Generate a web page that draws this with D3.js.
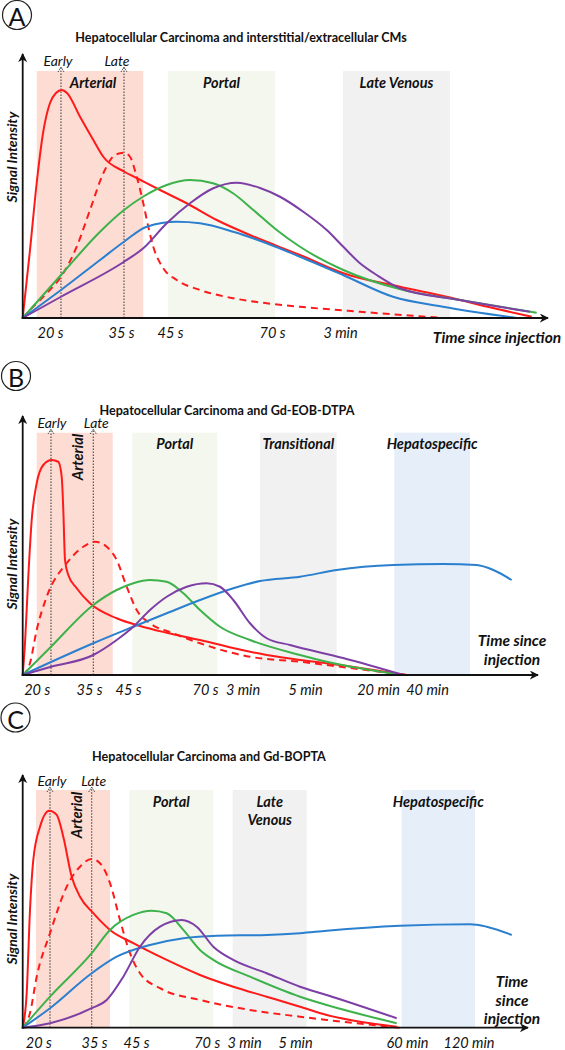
<!DOCTYPE html>
<html><head><meta charset="utf-8">
<script src="https://cdn.jsdelivr.net/npm/d3@7"></script>
<style>
body{margin:0;background:#fff}
svg{display:block}
text{font-family:Lato,"Open Sans",sans-serif;fill:#111}
</style>
</head><body>
<svg id="chart" width="565" height="1050"></svg>
<script>
// ---------------- DATA ----------------
// Panel A
const titleA = "Hepatocellular Carcinoma and interstitial/extracellular CMs";
const timeAnchorsA = [0, 20, 35, 45, 70, 180, 600];          // seconds
const tickValuesA = [20, 35, 45, 70, 180];
const tickLabelsA = ["20 s", "35 s", "45 s", "70 s", "3 min"];
const bandNamesA = ["Arterial", "Portal", "Late Venous"];
const bandStartA = [10.3, 44.6, 186.3];
const bandEndA = [39.55, 74.85, 411];
const phaseLinesA = [22.32, 35.61];
const redA = [[0,0],[5.35,27.2],[10.5,55.2],[14.9,74],[20,86],[21.27,90],[22.47,91.2],[23.59,90],[26.34,80.5],[29.15,71.2],[31.26,64.5],[35.61,58.6],[38.2,56],[42.96,51.2],[49.09,45.9],[56.45,39.2],[64.6,33.2],[115.3,25.2],[186.9,17.9],[306,12.5],[404,8.5],[501,4],[582.6,0.5]];
const redDashA = [[0,0],[5.35,3.2],[17.6,9.9],[22.32,16.5],[25.64,28.5],[28.45,43.2],[31.26,57.9],[33.73,65.2],[35.61,66.1],[36.84,64.5],[38.2,56.5],[39.55,45.9],[40.57,36.5],[41.59,28.5],[43.63,19.9],[46.64,15.2],[52.35,11.2],[60.51,7.9],[68.7,5.9],[115.3,4.5],[222,2.5],[396.3,0]];
const greenA = [[0,0],[22.32,17.2],[30.57,34.5],[35.61,43.2],[39.49,48.5],[44.33,53.2],[49.9,55.2],[55.54,53.9],[60.44,49.9],[65.42,43.2],[77.6,35.2],[115.3,28.5],[186.9,19.2],[312.9,11.2],[432,7.2],[593,2.1]];
const blueA = [[0,0],[22.32,11.2],[30.57,23.2],[35.61,30.5],[40.25,36.5],[46.64,38.5],[52.35,37.9],[60.51,34.5],[68.7,29.9],[115.3,24.5],[186.3,17.2],[291.3,8.5],[396.3,4.5],[551,0]];
const purpleA = [[0,0],[22.32,8.5],[35.61,22.5],[39.55,27.9],[44.33,37.9],[49.9,45.9],[55.61,51.9],[61.35,54.1],[67.06,52],[82.9,48.5],[120.6,42.5],[158.5,35.2],[186.9,28.5],[222,21.9],[257.1,17.2],[306,11.9],[432,7.2],[579,2.5]];

// Panel B
const titleB = "Hepatocellular Carcinoma and Gd-EOB-DTPA";
const timeAnchorsB = [0, 20, 35, 45, 70, 180, 300, 1200, 2400, 3600];
const tickValuesB = [20, 35, 45, 70, 180, 300, 1200, 2400];
const tickLabelsB = ["20 s", "35 s", "45 s", "70 s", "3 min", "5 min", "20 min", "40 min"];
const bandNamesB = ["Arterial", "Portal", "Transitional", "Hepatospecific"];
const bandStartB = [20, 46.4, 213.6, 1599];
const bandEndB = [41.08, 106.1, 690.9, 3453];
const phaseLinesB = [24.1, 36.1];
const redB = [[0,0],[3.29,12.7],[8.0,39.3],[12.86,62],[20,76.7],[21.89,84],[24.3,86],[26.19,85.3],[27.17,79.3],[27.63,66],[28.12,46],[29.06,40],[31.47,34.7],[35.26,28.7],[42.1,22.7],[48.9,19.6],[57.57,16.9],[68.38,14],[152.1,10.8],[226.5,8],[290.4,6],[567.6,4.7],[1902.9,0]];
const redDashB = [[0,0],[10.43,4.8],[20,18],[22.87,31.3],[28.6,44.7],[33.37,51.3],[36.54,53.3],[39.54,51.3],[42.1,46],[44.67,35.3],[47.82,26],[52.14,20.7],[59.71,16.7],[68.38,12.7],[194.4,7.3],[290.4,5.3],[854.9,2.8],[1902.9,0]];
const greenB = [[0,0],[24.1,11.3],[36.1,28],[42.1,34],[46.72,36.7],[52.14,38],[57.57,37.3],[62.96,32.7],[68.38,26],[114,19.3],[194.4,14],[290.4,8],[567.6,5.3],[1819.6,0]];
const blueB = [[0,0],[36.1,12.7],[46.72,19.3],[57.57,24.7],[68.38,30],[153,34.7],[213.6,37.6],[290.4,39.3],[690.9,42],[1574.7,44],[2799.2,44.4],[3617,44],[4023.5,42],[4474,38]];
const purpleB = [[0,0],[24.1,3.3],[36.1,8],[42.1,14],[46.72,19.3],[52.14,26],[57.57,31.3],[64.06,35.3],[75,36.7],[114,35.3],[153,30],[194.4,20.7],[226.5,14.7],[271.2,12],[768.5,6.8],[1819.6,0]];

// Panel C
const titleC = "Hepatocellular Carcinoma and Gd-BOPTA";
const timeAnchorsC = [0, 20, 35, 45, 70, 180, 300, 3600, 7200];
const tickValuesC = [20, 35, 45, 70, 180, 300, 3600, 7200];
const tickLabelsC = ["20 s", "35 s", "45 s", "70 s", "3 min", "5 min", "60 min", "120 min"];
const bandNamesC = ["Arterial", "Portal", "Late|Venous", "Hepatospecific"];
const bandStartC = [17.05, 43.4, 146.7, 3443.4];
const bandEndC = [38.81, 89.5, 644.7, 7580.7];
const phaseLinesC = [23.15, 34.38];
const redC = [[0,0],[5.13,13.9],[9.36,47.1],[13.59,67.1],[20.46,80.4],[22.96,86.8],[24.96,85.1],[26.73,76.4],[28.99,60.4],[31.23,52.4],[34.81,45.8],[38.81,39.1],[44.36,33.8],[55.86,27.1],[67.63,21.1],[148.4,16.4],[233.4,12.4],[447.3,8.4],[1233.9,5.1],[2214.9,2.4],[3296.1,0.4]];
const redDashC = [[0,0],[9.36,5.9],[17.95,20.4],[23.15,37.8],[27.65,56.4],[31.23,64.4],[34.38,67.5],[36.43,65.8],[38.81,57.8],[41.19,43.1],[43.57,29.8],[46.41,21.8],[53.49,15.8],[67.63,11.1],[194.1,7.1],[447.3,4.4],[1233.9,3.1],[3393,0]];
const greenC = [[0,0],[23.15,12.4],[34.38,29.8],[38.81,39.1],[44.36,45.1],[50.55,46.8],[55.86,45.8],[61.73,39.1],[67.63,31.1],[89.5,27.1],[194.1,20.4],[447.3,12.4],[1233.9,9.1],[3296.1,1.8]];
const blueC = [[0,0],[23.15,7.8],[34.38,21.8],[40.4,28.4],[49.95,33.1],[61.73,35.8],[99.5,36.8],[233.4,37.1],[447.3,37.8],[1233.9,38.8],[3393,40.8],[7288,41.4],[8266,40.4],[9729,37.1]];
const purpleC = [[0,0],[23.15,1.8],[34.38,7.8],[38.02,11.1],[41.98,20.4],[46.41,32.4],[53.49,40.4],[61.16,43.1],[66.46,40.4],[89.5,32.4],[148.4,27.1],[233.4,21.8],[447.3,16.4],[1233.9,13.1],[3296.1,3.8]];

const phaseNames = ["Early", "Late"];
const panelLetters = ["A", "B", "C"];

// ---------------- STYLE ----------------
const bandColors = {
  "Arterial": "#fddcd3",
  "Portal": "#f3f7ed",
  "Late Venous": "#f1f1f1",
  "Late|Venous": "#f1f1f1",
  "Transitional": "#f1f1f1",
  "Hepatospecific": "#e5eef9"
};
const seriesStyles = [
  {color: "#ff1a1a", dash: null},
  {color: "#ff1a1a", dash: "7,5"},
  {color: "#3db24a", dash: null},
  {color: "#2a7fcf", dash: null},
  {color: "#7d3fa6", dash: null}
];

const panels = [
  {
    letter: panelLetters[0], letterPos: [17, 15],
    title: titleA, titlePos: [241, 37], titleSize: 12.6,
    anchors: timeAnchorsA, xRange: [22.7, 50, 121, 170, 272, 340, 540],
    base: 318, bandTop: 71, axisTop: 54, axisRight: 548,
    ticks: tickValuesA, tickLabels: tickLabelsA,
    bands: bandNamesA.map((n, i) => ({name: n, from: bandStartA[i], to: bandEndA[i]})),
    bandLabelY: 82, rotateArterial: false,
    phases: phaseLinesA, phaseTop: 67, phaseLabelY: 60, phaseDx: [-3, -7],
    series: [redA, redDashA, greenA, blueA, purpleA],
    ylabelY: 157,
    timeLabel: ["Time since injection"], timeLabelPos: [497, 337]
  },
  {
    letter: panelLetters[1], letterPos: [16, 376],
    title: titleB, titlePos: [227, 410], titleSize: 12.6,
    anchors: timeAnchorsB, xRange: [22.7, 36.7, 89, 128, 205, 242.5, 305, 378, 427, 476],
    base: 675, bandTop: 432.7, axisTop: 416, axisRight: 538,
    ticks: tickValuesB, tickLabels: tickLabelsB,
    bands: bandNamesB.map((n, i) => ({name: n, from: bandStartB[i], to: bandEndB[i]})),
    bandLabelY: 443, rotateArterial: true, arterialLabelY: 457,
    phases: phaseLinesB, phaseTop: 429, phaseLabelY: 422, phaseDx: [1, 3],
    series: [redB, redDashB, greenB, blueB, purpleB],
    ylabelY: 564,
    timeLabel: ["Time since", "injection"], timeLabelPos: [512, 640]
  },
  {
    letter: panelLetters[2], letterPos: [15.5, 717.5],
    title: titleC, titlePos: [209, 756], titleSize: 12.6,
    anchors: timeAnchorsC, xRange: [22.7, 38.3, 94, 136, 206.7, 244, 295, 407, 468.5],
    base: 1027.7, bandTop: 790, axisTop: 775, axisRight: 528,
    ticks: tickValuesC, tickLabels: tickLabelsC,
    bands: bandNamesC.map((n, i) => ({name: n, from: bandStartC[i], to: bandEndC[i]})),
    bandLabelY: 801, rotateArterial: true, arterialLabelY: 815,
    phases: phaseLinesC, phaseTop: 787, phaseLabelY: 780, phaseDx: [2, 2],
    series: [redC, redDashC, greenC, blueC, purpleC],
    ylabelY: 919,
    timeLabel: ["Time", "since", "injection"], timeLabelPos: [512, 981]
  }
];

// ---------------- DRAW ----------------
const svg = d3.select("#chart");
const defs = svg.append("defs");
defs.append("marker").attr("id", "axArrow").attr("viewBox", "0 0 10 10")
  .attr("refX", 9).attr("refY", 5).attr("markerWidth", 9).attr("markerHeight", 9)
  .attr("markerUnits", "userSpaceOnUse").attr("orient", "auto")
  .append("path").attr("d", "M0,0 L10,5 L0,10 L3,5 Z").attr("fill", "#111");

panels.forEach(p => {
  const g = svg.append("g");
  const x = d3.scaleLinear().domain(p.anchors).range(p.xRange);
  const y = d3.scaleLinear().domain([0, 100]).range([p.base, p.base - 250]);
  const x0 = x(0);

  // bands
  g.selectAll("rect.band").data(p.bands).join("rect").attr("class", "band")
    .attr("x", d => x(d.from)).attr("width", d => x(d.to) - x(d.from))
    .attr("y", p.bandTop).attr("height", p.base - p.bandTop)
    .attr("fill", d => bandColors[d.name]);

  // band labels
  p.bands.forEach(b => {
    const cx = (x(b.from) + x(b.to)) / 2;
    if (b.name === "Arterial" && p.rotateArterial) {
      g.append("text").attr("transform", `translate(${cx + 3},${p.arterialLabelY}) rotate(-90)`)
        .attr("text-anchor", "middle").attr("dominant-baseline", "central")
        .attr("font-size", 14.5).attr("font-weight", 700).attr("font-style", "italic")
        .text(b.name);
    } else {
      const lines = b.name.split("|");
      const dx = b.name === "Arterial" ? 3 : 0;
      lines.forEach((ln, i) => {
        g.append("text").attr("x", cx + dx).attr("y", p.bandLabelY + i * 18)
          .attr("text-anchor", "middle").attr("dominant-baseline", "central")
          .attr("font-size", 14.5).attr("font-weight", 700).attr("font-style", "italic")
          .text(ln);
      });
    }
  });

  // phase (Early / Late) dashed lines
  p.phases.forEach((t, i) => {
    const px = x(t);
    g.append("line").attr("x1", px).attr("x2", px).attr("y1", p.base).attr("y2", p.phaseTop)
      .attr("stroke", "#444").attr("stroke-width", 1.1).attr("stroke-dasharray", "1.5,1.5");
    g.append("path").attr("d", `M${px - 3},${p.phaseTop + 5} L${px},${p.phaseTop} L${px + 3},${p.phaseTop + 5}`)
      .attr("fill", "none").attr("stroke", "#444").attr("stroke-width", 1).attr("stroke-dasharray", "1.5,1");
    g.append("text").attr("x", px + p.phaseDx[i]).attr("y", p.phaseLabelY)
      .attr("text-anchor", "middle").attr("dominant-baseline", "central")
      .attr("font-size", 14).attr("font-style", "italic").attr("fill", "#222")
      .text(phaseNames[i]);
  });

  // curves
  const line = d3.line().x(d => x(d[0])).y(d => y(d[1])).curve(d3.curveMonotoneX);
  p.series.forEach((s, i) => {
    g.append("path").datum(s).attr("d", line).attr("fill", "none")
      .attr("stroke", seriesStyles[i].color).attr("stroke-width", 2)
      .attr("stroke-dasharray", seriesStyles[i].dash);
  });

  // axes
  g.append("line").attr("x1", x0).attr("x2", x0).attr("y1", p.base + 1).attr("y2", p.axisTop)
    .attr("stroke", "#111").attr("stroke-width", 1.8).attr("marker-end", "url(#axArrow)");
  g.append("line").attr("x1", x0 - 1).attr("x2", p.axisRight).attr("y1", p.base).attr("y2", p.base)
    .attr("stroke", "#111").attr("stroke-width", 1.8).attr("marker-end", "url(#axArrow)");

  const ax = g.append("g").attr("transform", `translate(0,${p.base})`)
    .call(d3.axisBottom(x).tickValues(p.ticks).tickFormat((d, i) => p.tickLabels[i]).tickSize(0));
  ax.select(".domain").remove();
  ax.selectAll("text").attr("y", 15).attr("dy", "0.35em")
    .attr("font-family", "Lato, sans-serif").attr("font-size", 14.5)
    .attr("font-style", "italic").attr("fill", "#222");

  // y label
  g.append("text").attr("transform", `translate(11,${p.ylabelY}) rotate(-90)`)
    .attr("text-anchor", "middle").attr("dominant-baseline", "central")
    .attr("font-size", 14).attr("font-weight", 700).attr("font-style", "italic")
    .text("Signal Intensity");

  // time label
  p.timeLabel.forEach((t, i) => {
    g.append("text").attr("x", p.timeLabelPos[0]).attr("y", p.timeLabelPos[1] + i * 18.5)
      .attr("text-anchor", "middle").attr("dominant-baseline", "central")
      .attr("font-size", 15.5).attr("font-weight", 700).attr("font-style", "italic")
      .text(t);
  });

  // title
  g.append("text").attr("x", p.titlePos[0]).attr("y", p.titlePos[1])
    .attr("text-anchor", "middle").attr("dominant-baseline", "central")
    .attr("font-size", p.titleSize).attr("font-weight", 700)
    .text(p.title);

  // panel letter
  g.append("circle").attr("cx", p.letterPos[0]).attr("cy", p.letterPos[1]).attr("r", 14.5)
    .attr("fill", "#fff").attr("stroke", "#222").attr("stroke-width", 1.2);
  g.append("text").attr("x", p.letterPos[0]).attr("y", p.letterPos[1] + 1)
    .attr("text-anchor", "middle").attr("dominant-baseline", "central")
    .attr("font-family", "Liberation Sans, Arial, sans-serif").attr("font-size", 25)
    .text(p.letter);
});
</script>
</body></html>
